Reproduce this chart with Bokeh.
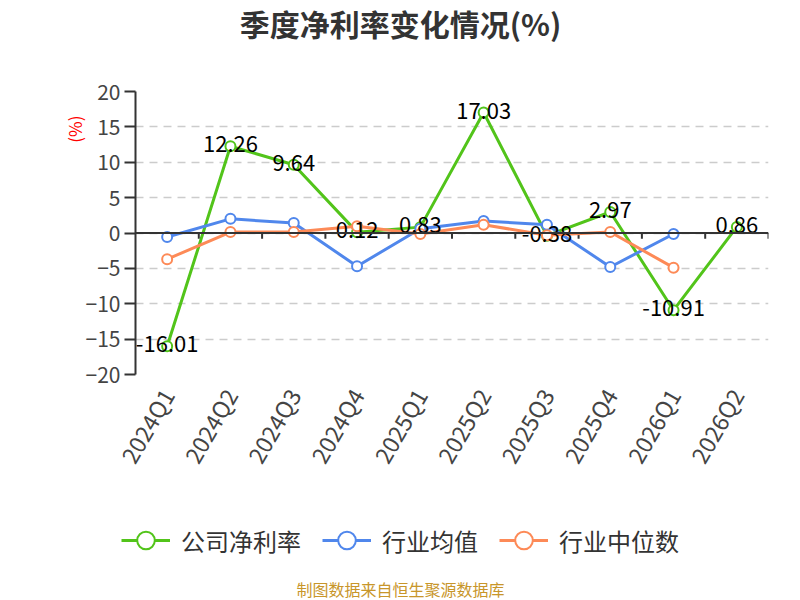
import math
from bokeh.plotting import figure
from bokeh.layouts import column
from bokeh.models import (ColumnDataSource, FactorRange, Span, FixedTicker, Legend, LegendItem,
                          Label, Range1d, LinearAxis)
from bokeh.transform import dodge
from bokeh.core.properties import value
from bokeh.embed import file_html
from bokeh.resources import INLINE

categories = ["2024Q1", "2024Q2", "2024Q3", "2024Q4", "2025Q1", "2025Q2",
              "2025Q3", "2025Q4", "2026Q1", "2026Q2"]
company = [-16.01, 12.26, 9.64, 0.12, 0.83, 17.03, -0.38, 2.97, -10.91, 0.86]
industry_avg = [-0.56, 2.0, 1.4, -4.7, 0.6, 1.7, 1.17, -4.8, -0.14]
industry_median = [-3.7, 0.14, 0.14, 0.94, -0.14, 1.17, -0.33, 0.14, -4.9]
y_ticks = [-20, -15, -10, -5, 0, 5, 10, 15, 20]
unit_tick = [16.6]

FONT = "Noto Sans CJK SC"
GREEN = "#52c41a"
BLUE = "#5087ec"
ORANGE = "#fd8a57"

series = [
    ("公司净利率", company, GREEN),
    ("行业均值", industry_avg, BLUE),
    ("行业中位数", industry_median, ORANGE),
]

# ---- title strip
t = figure(width=800, height=44, x_range=Range1d(0, 800), y_range=Range1d(0, 44),
           output_backend="svg", toolbar_location=None, x_axis_location=None,
           y_axis_location=None, min_border=0, frame_align=False)
t.outline_line_color = None
t.grid.visible = False
t.add_layout(Label(x=400, y=22, text="季度净利率变化情况(%)", text_align="center",
                   text_baseline="middle", text_color="#333333", text_font=FONT,
                   text_font_size="30px", text_font_style="bold"))

# ---- main chart
p = figure(width=800, height=436, x_range=FactorRange(factors=categories, range_padding=0),
           y_range=(-20, 20), output_backend="svg", toolbar_location=None,
           min_border_left=135, min_border_right=32, min_border_top=47, min_border_bottom=105,
           frame_align=False)
p.outline_line_color = None
p.background_fill_color = "white"

p.xgrid.grid_line_color = None
p.ygrid.grid_line_color = "#cccccc"
p.ygrid.grid_line_dash = "8 6"
p.ygrid.grid_line_width = 1.5
p.yaxis.ticker = FixedTicker(ticks=y_ticks)
p.yaxis.axis_line_color = "#333333"
p.yaxis.axis_line_width = 2
p.yaxis.major_tick_line_color = "#333333"
p.yaxis.major_tick_line_width = 2
p.yaxis.major_tick_out = 11
p.yaxis.major_tick_in = 0
p.yaxis.minor_tick_line_color = None
p.yaxis.major_label_text_font = FONT
p.yaxis.major_label_text_font_size = "21px"
p.yaxis.major_label_text_color = "#444444"
p.yaxis.major_label_standoff = 4

unit_axis = LinearAxis(ticker=FixedTicker(ticks=unit_tick),
                       major_label_overrides={unit_tick[0]: "(%)"},
                       major_label_orientation=math.pi / 2,
                       major_label_text_color="red", major_label_text_font=FONT,
                       major_label_text_font_size="17px", major_label_standoff=2,
                       axis_line_color=None, major_tick_line_color=None,
                       minor_tick_line_color=None)
p.add_layout(unit_axis, "left")

p.xaxis.axis_line_color = None
p.xaxis.major_tick_line_color = None
p.xaxis.major_label_orientation = math.pi / 3
p.xaxis.major_label_text_font = FONT
p.xaxis.major_label_text_font_size = "23px"
p.xaxis.major_label_text_color = "#444444"
p.xaxis.major_label_standoff = 10

p.add_layout(Span(location=0, dimension="width", line_color="#333333", line_width=2))

tick_src = ColumnDataSource(dict(cat=categories, y0=[0] * len(categories),
                                 y1=[-0.8] * len(categories)))
p.segment(x0=dodge("cat", 0.5, range=p.x_range), x1=dodge("cat", 0.5, range=p.x_range),
          y0="y0", y1="y1", source=tick_src, line_color="#333333", line_width=2)

for name, vals, col in series:
    src = ColumnDataSource(dict(x=categories[:len(vals)], y=vals))
    p.line("x", "y", source=src, line_color=col, line_width=3)
    p.scatter("x", "y", source=src, marker="circle", size=10, fill_color="white",
              line_color=col, line_width=2)

lab_src = ColumnDataSource(dict(x=categories, y=company, t=[f"{v:.2f}" for v in company]))
p.text("x", "y", text="t", source=lab_src, text_align="center", text_baseline="middle",
       text_font=value(FONT), text_font_size="22px", text_color="#000000", y_offset=-2)

# ---- legend + source strip (its value range lies away from the data, so only the legend shows)
q = figure(width=800, height=120, x_range=FactorRange(factors=categories, range_padding=0),
           y_range=Range1d(100, 220), output_backend="svg", toolbar_location=None,
           x_axis_location=None, y_axis_location=None, min_border=0, frame_align=False)
q.outline_line_color = None
q.grid.visible = False
items = []
for name, vals, col in series:
    src = ColumnDataSource(dict(x=categories[:len(vals)], y=vals))
    r1 = q.line("x", "y", source=src, line_color=col, line_width=3)
    r2 = q.scatter("x", "y", source=src, marker="circle", size=10, fill_color="white",
                   line_color=col, line_width=2)
    items.append(LegendItem(label=name, renderers=[r1, r2]))

legend = Legend(items=items, orientation="horizontal", location=(121, 38),
                label_text_font=FONT, label_text_font_size="24px", label_text_color="#333333",
                glyph_width=49, glyph_height=44, spacing=21, label_standoff=11,
                border_line_color=None, background_fill_alpha=0, margin=0, padding=0)
q.add_layout(legend)

q.add_layout(Label(x=5, y=112, text="制图数据来自恒生聚源数据库", text_align="center",
                   text_baseline="middle", text_color="#c8962a", text_font=FONT,
                   text_font_size="16px"))

layout = column(t, p, q, spacing=0)
open("out.html", "w").write(file_html(layout, INLINE))
